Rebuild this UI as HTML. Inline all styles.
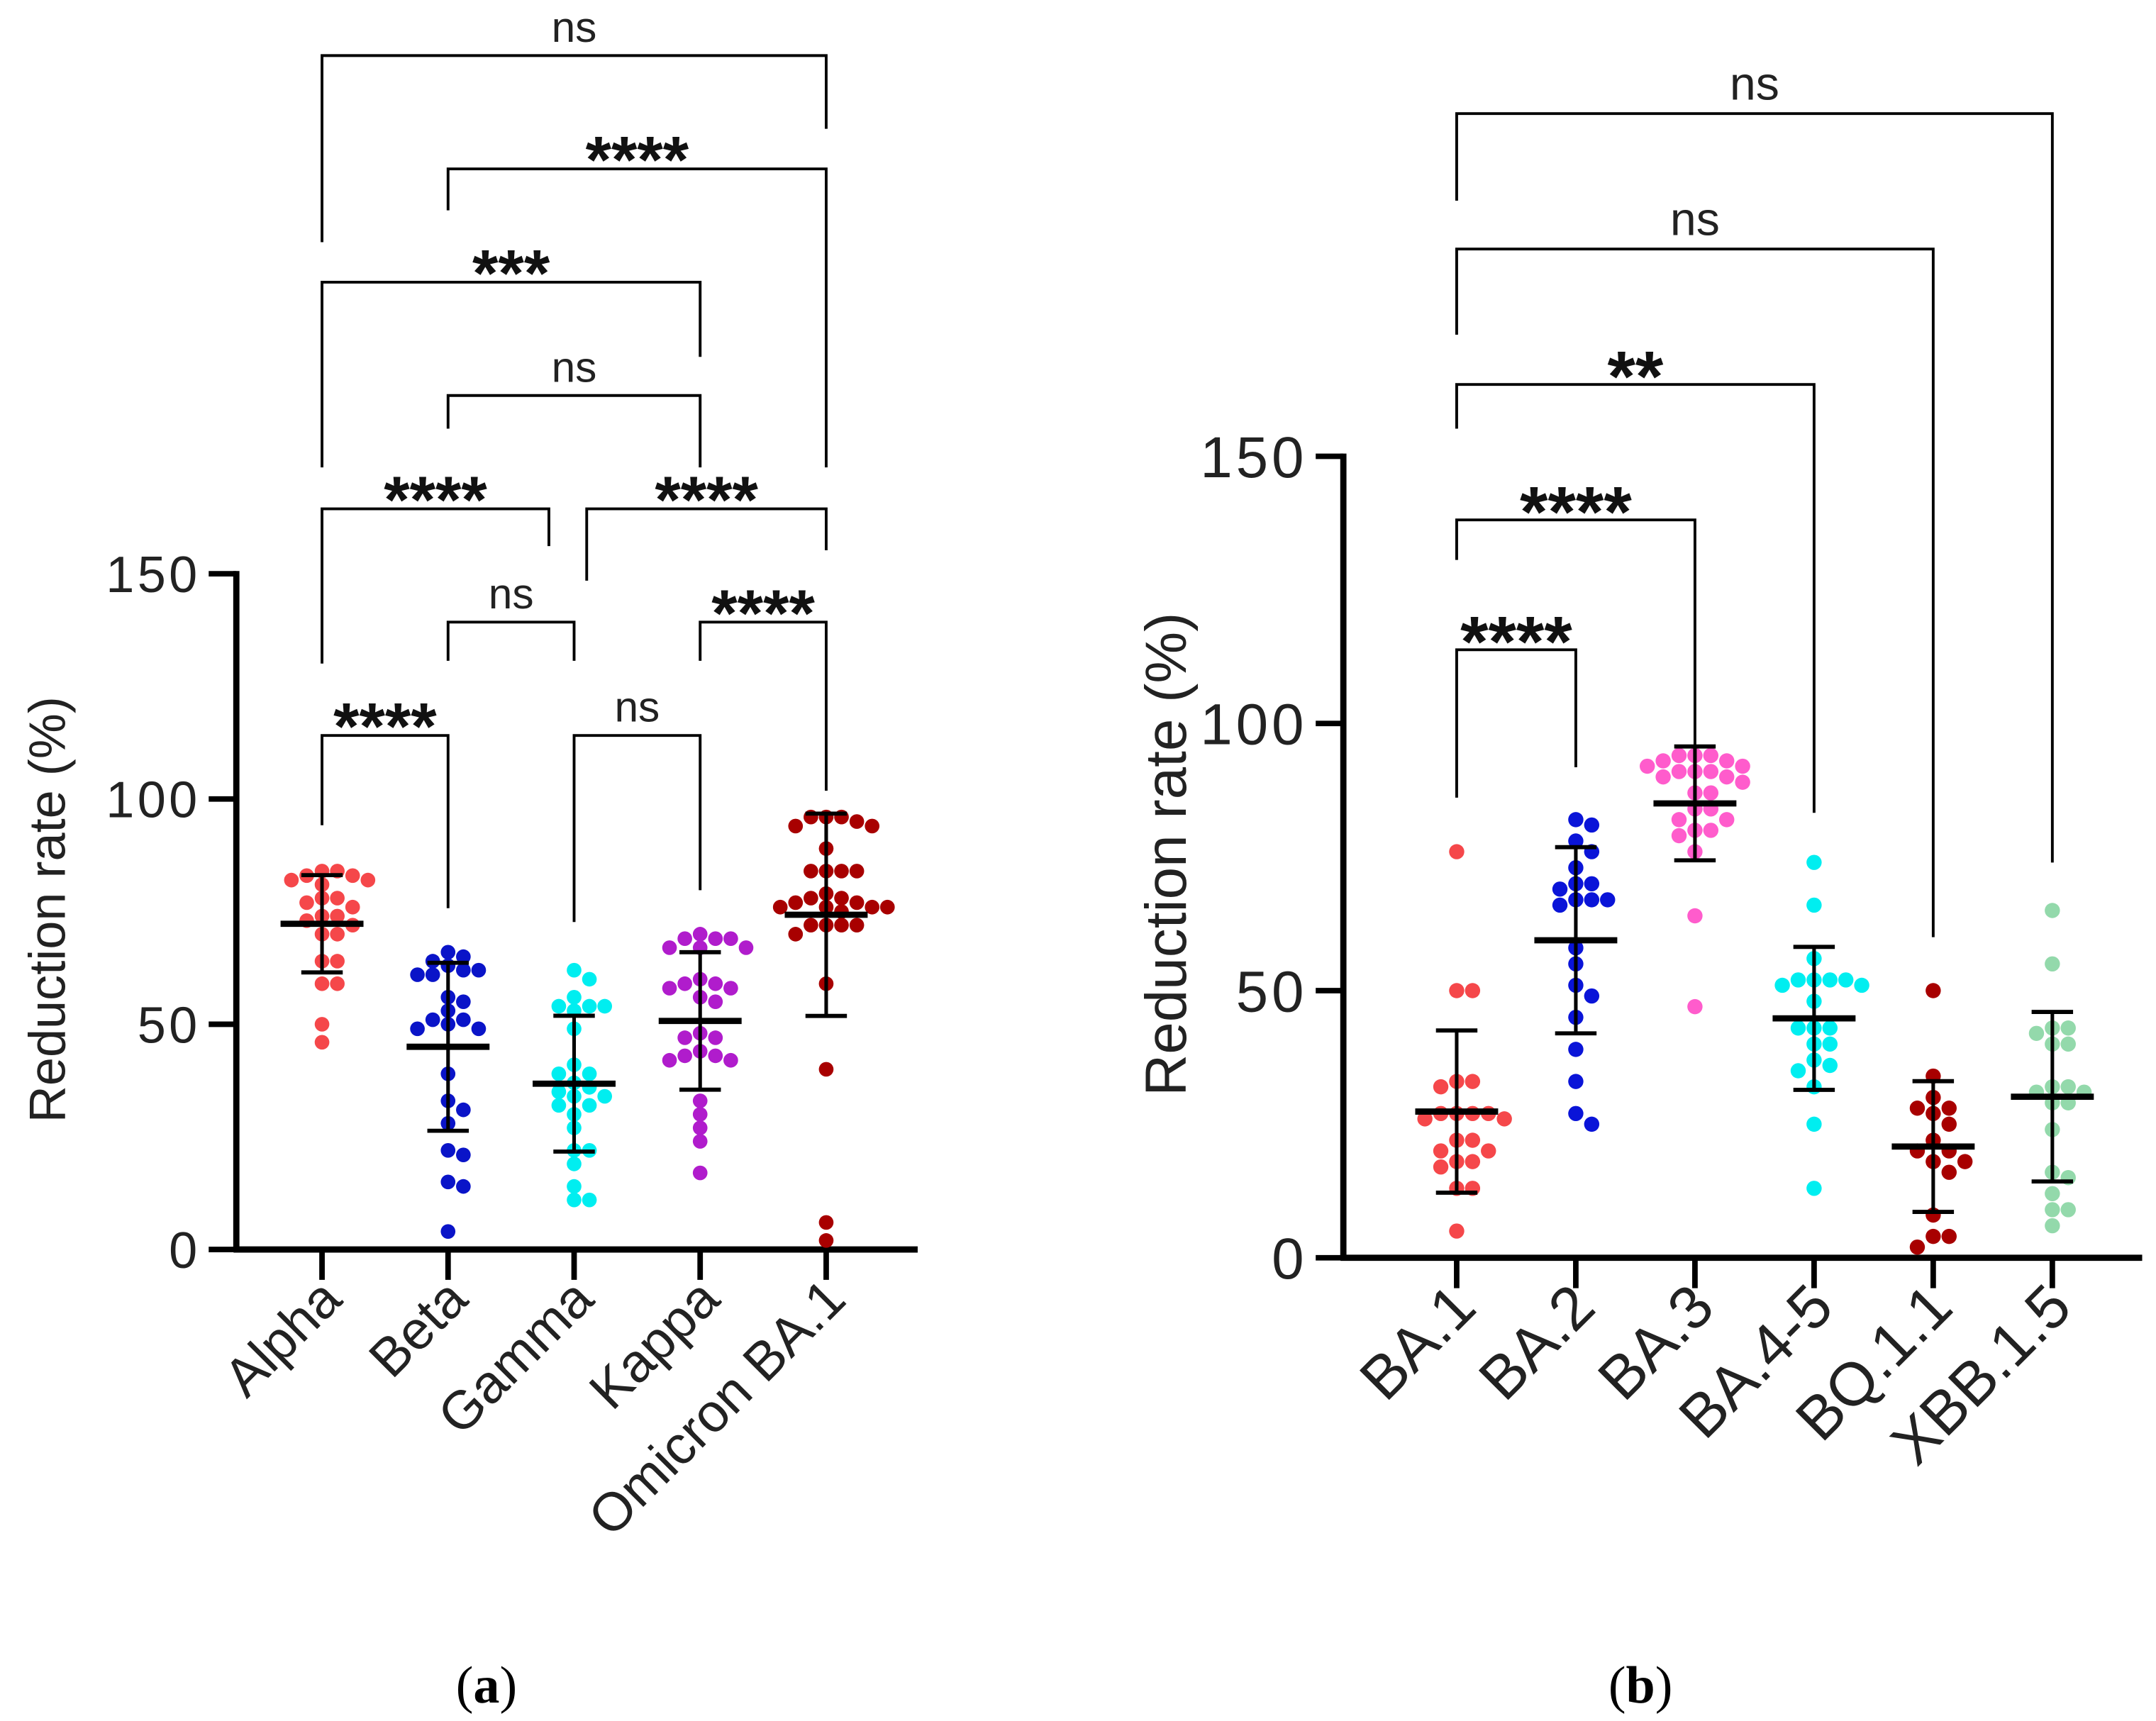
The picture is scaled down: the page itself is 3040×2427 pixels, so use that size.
<!DOCTYPE html>
<html><head><meta charset="utf-8"><style>
html,body{margin:0;padding:0;background:#fff;}
svg{display:block;}
text{font-family:"Liberation Sans",sans-serif;}
</style></head><body>
<svg id="fig" width="3040" height="2427" viewBox="0 0 1560 1245" xmlns="http://www.w3.org/2000/svg">
<g id="pa"></g>
<g id="pb"></g>
<text x="352" y="1232" text-anchor="middle" font-size="38" style="font-family:'Liberation Serif',serif">(<tspan font-weight="bold">a</tspan>)</text>
<text x="1187" y="1232" text-anchor="middle" font-size="38" style="font-family:'Liberation Serif',serif">(<tspan font-weight="bold">b</tspan>)</text>
</svg>
<script>
const catsA = ["Alpha","Beta","Gamma","Kappa","Omicron BA.1"];
const alphaVals = [84,84,83,83,82,82,81,78,78,77,76,74,74,73,72,70,70,64,64,59,59,50,46];
const betaVals = [66,65,64,63,62,62,61,61,56,55,53,51,51,50,49,49,39,33,31,28,22,21,15,14,4];
const gammaVals = [62,60,56,54,54,54,53,49,41,39,39,37,36,35,34,34,32,32,30,27,22,22,19,14,11,11];
const kappaVals = [70,69,69,69,67,67,67,60,59,59,58,58,56,55,48,47,47,44,43,43,42,42,33,30,27,24,17];
const omicronVals = [96,96,96,95,94,94,89,84,84,84,84,79,78,78,77,77,76,76,76,76,75,72,72,72,72,70,59,40,6,2];
const seriesA = [alphaVals,betaVals,gammaVals,kappaVals,omicronVals];
const colorsA = ["#f5474a","#0a14c8","#00eef0","#b01ccc","#a80000"];
const ticksA = [0,50,100,150];
const bracketsA = [
 {a:0,b:1,y:532,l:"****",lb:597,rb:657},
 {a:1,b:2,y:450,l:"ns",lb:478,rb:478},
 {a:2,b:3,y:532,l:"ns",lb:667,rb:644},
 {a:3,b:4,y:450,l:"****",lb:478,rb:572},
 {a:0,b:1.8,y:368,l:"****",lb:480,rb:395},
 {a:2.1,b:4,y:368,l:"****",lb:420,rb:398},
 {a:1,b:3,y:286,l:"ns",lb:310,rb:338},
 {a:0,b:3,y:204,l:"***",lb:338,rb:258},
 {a:1,b:4,y:122,l:"****",lb:152,rb:338},
 {a:0,b:4,y:40,l:"ns",lb:175,rb:93}
];

const catsB = ["BA.1","BA.2","BA.3","BA.4-5","BQ.1.1","XBB.1.5"];
const ba1Vals = [76,50,50,33,33,32,27,27,27,27,26,26,22,22,20,20,18,18,17,13,13,5];
const ba2Vals = [82,81,78,76,73,70,70,69,67,67,67,66,58,55,51,49,45,39,33,27,25];
const ba3Vals = [94,94,94,93,93,92,92,91,91,91,90,90,89,87,87,84,84,82,82,80,80,79,76,64,47];
const ba45Vals = [74,66,56,52,52,52,52,51,51,48,43,43,43,40,40,37,36,35,32,25,13];
const bq11Vals = [50,34,30,28,28,27,25,22,20,20,18,18,16,8,4,4,2];
const xbbVals = [65,55,43,43,42,40,40,32,32,31,31,29,29,24,16,15,12,9,9,6];
const seriesB = [ba1Vals,ba2Vals,ba3Vals,ba45Vals,bq11Vals,xbbVals];
const colorsB = ["#f5474a","#0a14d8","#ff5ccc","#00eef0","#a80000","#93d9ab"];
const ticksB = [0,50,100,150];
const bracketsB = [
 {a:0,b:1,y:470,l:"****",lb:577,rb:555},
 {a:0,b:2,y:376,l:"****",lb:405,rb:540},
 {a:0,b:3,y:278,l:"**",lb:310,rb:588},
 {a:0,b:4,y:180,l:"ns",lb:242,rb:678},
 {a:0,b:5,y:82,l:"ns",lb:145,rb:624}
];

const NS="http://www.w3.org/2000/svg";
function mk(parent,tag,attrs,txt){const e=document.createElementNS(NS,tag);for(const k in attrs)e.setAttribute(k,attrs[k]);if(txt!==undefined)e.textContent=txt;parent.appendChild(e);return e;}

function drawPanel(g,cfg,cats,series,colors,ticks,brackets){
  const yS=v=>cfg.y0-(v/150)*(cfg.y0-cfg.y150);
  const xS=i=>cfg.x0+i*cfg.dx;
  const ya=mk(g,"line",{x1:cfg.ax,y1:cfg.y150-2,x2:cfg.ax,y2:cfg.y0+2,stroke:"#000","stroke-width":4.5});
  
  
  const xa=mk(g,"line",{x1:cfg.ax-2,y1:cfg.y0,x2:cfg.xend,y2:cfg.y0,stroke:"#000","stroke-width":4.5});
  
  
  ticks.forEach(t=>{
    const tl=mk(g,"line",{x1:cfg.ax-20,y1:yS(t),x2:cfg.ax,y2:yS(t),stroke:"#000","stroke-width":4});
    
    
    const tt=mk(g,"text",{x:cfg.ax-26,y:yS(t)+cfg.fs*0.36,"text-anchor":"end","font-size":cfg.fs,"letter-spacing":cfg.fs*0.06,fill:"#222"},String(t));
    
    
  });
  const yt=mk(g,"text",{x:0,y:0,"text-anchor":"middle","font-size":cfg.tfs,fill:"#222",transform:`translate(${cfg.titleX},${cfg.titleY}) rotate(-90)`},"Reduction rate (%)");
  
  
  cats.forEach((c,i)=>{
    const x=xS(i);
    const tk=mk(g,"line",{x1:x,y1:cfg.y0,x2:x,y2:cfg.y0+22,stroke:"#000","stroke-width":4});
    
    
    const lb=mk(g,"text",{x:0,y:0,"text-anchor":"end","font-size":cfg.xfs,fill:"#222",transform:`translate(${x+16},${cfg.y0+38}) rotate(-45)`},c);
    
    
  });
  const r=cfg.r, d=r*1.9;
  series.forEach((vals,i)=>{
    const cx=xS(i); const placed=[];
    const grp=mk(g,"g",{});
    
    
    vals.forEach(v=>{
      const y=yS(v); let x=cx;
      for(let k=0;k<30;k++){
        const off=(k===0?0:(k%2?1:-1)*Math.ceil(k/2))*d*0.55;
        const tx=cx+off;
        if(placed.every(p=>Math.hypot(p[0]-tx,p[1]-y)>=2*r*0.9)){x=tx;break;}
      }
      placed.push([x,y]);
      const c=mk(grp,"circle",{cx:x,cy:y,r:r,fill:colors[i]});
      
      
    });
    const n=vals.length, m=vals.reduce((a,b)=>a+b,0)/n;
    const sd=Math.sqrt(vals.reduce((a,b)=>a+(b-m)*(b-m),0)/(n-1));
    const eb=mk(g,"g",{stroke:"#000"});
    
    
    mk(eb,"line",{x1:cx,y1:yS(m+sd),x2:cx,y2:yS(m-sd),"stroke-width":2.6});
    mk(eb,"line",{x1:cx-15,y1:yS(m+sd),x2:cx+15,y2:yS(m+sd),"stroke-width":3});
    mk(eb,"line",{x1:cx-15,y1:yS(m-sd),x2:cx+15,y2:yS(m-sd),"stroke-width":3});
    mk(eb,"line",{x1:cx-30,y1:yS(m),x2:cx+30,y2:yS(m),"stroke-width":4.5});
  });
  brackets.forEach(b=>{
    const x1=xS(b.a), x2=xS(b.b);
    const bg=mk(g,"g",{});
    
    
    mk(bg,"polyline",{points:`${x1},${b.lb} ${x1},${b.y} ${x2},${b.y} ${x2},${b.rb}`,fill:"none",stroke:"#000","stroke-width":2});
    const mx=(x1+x2)/2;
    if(b.l==="ns"){
      mk(bg,"text",{x:mx,y:b.y-10,"text-anchor":"middle","font-size":cfg.nsfs,fill:"#222"},"ns");
    } else {
      mk(bg,"text",{x:mx,y:b.y+cfg.astOff,"text-anchor":"middle","font-size":cfg.astfs,"font-weight":"bold",fill:"#111"},b.l);
    }
  });
}
drawPanel(document.getElementById("pa"),
 {ax:171,y0:904,y150:415,x0:233,dx:91.2,xend:664,fs:37,tfs:37,xfs:39,titleX:47,titleY:658,r:5.3,nsfs:31,astfs:48,astOff:10},
 catsA,seriesA,colorsA,ticksA,bracketsA);
drawPanel(document.getElementById("pb"),
 {ax:972,y0:910,y150:330,x0:1054,dx:86.2,xend:1550,fs:42,tfs:42,xfs:44,titleX:858,titleY:618,r:5.5,nsfs:34,astfs:52,astOff:12},
 catsB,seriesB,colorsB,ticksB,bracketsB);
</script>
</body></html>
